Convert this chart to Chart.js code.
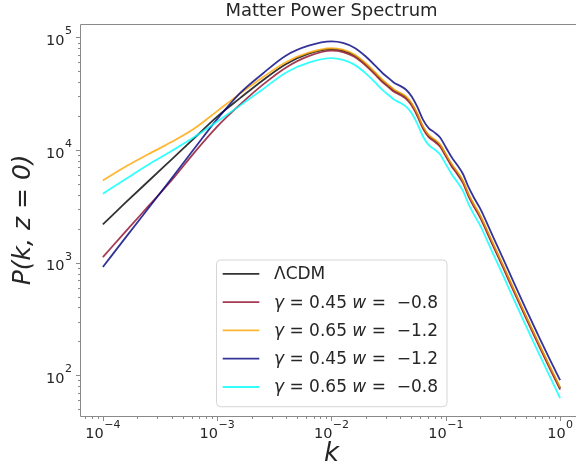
<!DOCTYPE html>
<html><head><meta charset="utf-8">
<script src="https://cdn.jsdelivr.net/npm/chart.js@4.4.1/dist/chart.umd.min.js"></script>
<style>html,body{margin:0;padding:0;background:#fff;overflow:hidden}canvas{display:block}</style>
</head><body>
<canvas id="c" width="583" height="468" style="width:583px;height:468px"></canvas>
<script>
// wavenumber k
const k = [1e-4, 1.585e-4, 2.512e-4, 3.981e-4, 6.310e-4, 1e-3, 1.585e-3, 2.512e-3, 3.981e-3, 6.310e-3,
  0.01, 0.01259, 0.01585, 0.01995, 0.02512, 0.02818, 0.03162, 0.03548, 0.03981, 0.04467,
  0.05012, 0.05623, 0.06310, 0.07079, 0.07943, 0.08913, 0.1, 0.1122, 0.1259, 0.1413,
  0.1585, 0.1778, 0.1995, 0.2512, 0.3162, 0.3981, 0.5012, 0.6310, 0.7943, 1.0];
// P(k, z=0) for each model
const lcdm = [2185, 3425, 5310, 8237, 12780, 19820, 28910, 41740, 57860, 71700,
  78900, 76530, 69360, 57970, 46110, 40970, 37220, 33750, 31800, 29550,
  25770, 20800, 15960, 13420, 12280, 11050, 9066, 7420, 6303, 5245,
  3982, 3180, 2594, 1557, 934.9, 555.6, 333.4, 202.2, 123.9, 76.8];
const g045w08 = [1121, 1895, 3189, 5364, 9502, 16160, 25320, 38080, 53860, 68120,
  76210, 74220, 67270, 56220, 44720, 39730, 36100, 32730, 30840, 28660,
  24990, 20170, 15480, 13010, 11910, 10720, 8792, 7196, 6113, 5087,
  3862, 3084, 2516, 1510, 906.7, 538.8, 323.3, 196.1, 120.2, 74.5];
const g065w12 = [5364, 7140, 9216, 11770, 15510, 22160, 31690, 44380, 60270, 73180,
  80200, 77790, 70500, 58930, 46870, 41650, 37830, 34310, 32320, 30040,
  26200, 21140, 16220, 13640, 12480, 11230, 9216, 7542, 6407, 5332,
  4048, 3232, 2637, 1583, 950.3, 564.8, 338.9, 205.5, 125.9, 78.1];
const g045w12 = [914, 1676, 3060, 5587, 10310, 18830, 32010, 47860, 68830, 84400,
  92160, 89390, 81020, 67710, 53860, 47860, 43480, 39420, 37150, 34520,
  30100, 24300, 18640, 15670, 14350, 12910, 10590, 8667, 7362, 6127,
  4651, 3715, 3030, 1819, 1092, 649, 389.4, 236.2, 144.7, 90.5];
const g065w08 = [4089, 5533, 7438, 9797, 13040, 17890, 24810, 34740, 48650, 59660,
  65420, 63300, 57370, 47950, 38140, 33890, 30780, 27910, 26300, 24440,
  21310, 17200, 13200, 11100, 10160, 9140, 7499, 6137, 5213, 4338,
  3294, 2630, 2146, 1288, 773.3, 459.5, 275.8, 167.2, 102.5, 62.7];
const seriesLabels = ['ΛCDM', 'γ = 0.45 w =  −0.8', 'γ = 0.65 w =  −1.2', 'γ = 0.45 w =  −1.2', 'γ = 0.65 w =  −0.8'];
const xTicks = [1e-4, 1e-3, 1e-2, 1e-1, 1];
const yTicks = [1e2, 1e3, 1e4, 1e5];

const seriesValues = [lcdm, g045w08, g065w12, g045w12, g065w08];
const seriesColors = ['rgba(0,0,0,0.8)', 'rgba(139,10,40,0.8)', 'rgba(255,165,0,0.8)', 'rgba(0,0,128,0.8)', 'rgba(0,255,255,0.8)'];
const FONT = '"DejaVu Sans", "Noto Sans", sans-serif';
const TXT = '#262626';
const SUP = {'-':'⁻','0':'⁰','1':'¹','2':'²','3':'³','4':'⁴','5':'⁵','6':'⁶','7':'⁷','8':'⁸','9':'⁹'};
const fmt = v => '10' + String(Math.round(Math.log10(v))).split('').map(c => SUP[c]).join('');

const datasets = seriesValues.map((vals, i) => ({
  label: seriesLabels[i],
  data: k.map((kv, j) => ({x: kv, y: vals[j]})),
  borderColor: seriesColors[i],
  backgroundColor: seriesColors[i],
  borderWidth: 1.8,
  pointRadius: 0,
  fill: false,
  cubicInterpolationMode: 'monotone',
  order: seriesValues.length - i
}));

// draws "10" with a raised exponent, like mathtext
function drawPow(ctx, v, x, y, align) {
  const e = String(Math.round(Math.log10(v))).replace('-', '−');
  ctx.font = '14.5px ' + FONT; const wb = ctx.measureText('10').width;
  ctx.font = '11px ' + FONT; const we = ctx.measureText(e).width;
  const total = wb + 0.5 + we;
  const sx = align === 'center' ? x - total / 2 : x - total;
  ctx.textAlign = 'left'; ctx.textBaseline = 'alphabetic'; ctx.fillStyle = TXT;
  ctx.font = '14.5px ' + FONT; ctx.fillText('10', sx, y);
  ctx.font = '11px ' + FONT; ctx.fillText(e, sx + wb + 0.5, y - 10.5);
}

const axesPlugin = {
  id: 'mplAxes',
  afterDraw(chart) {
    const {ctx, chartArea: a, scales: {x, y}} = chart;
    const L = Math.round(a.left) + 0.5, B = Math.round(a.bottom) + 0.5, T = Math.round(a.top) + 0.5;
    ctx.save();
    ctx.strokeStyle = '#8a8a8a';
    ctx.lineWidth = 1;
    ctx.beginPath();
    ctx.moveTo(a.right, T); ctx.lineTo(L, T); ctx.lineTo(L, B); ctx.lineTo(a.right, B);
    for (let e = Math.floor(Math.log10(x.min)); e <= Math.ceil(Math.log10(x.max)); e++) {
      for (let m = 1; m <= 9; m++) {
        const v = m * Math.pow(10, e);
        if (v < x.min || v > x.max) continue;
        const px = Math.round(x.getPixelForValue(v)) + 0.5;
        ctx.moveTo(px, B); ctx.lineTo(px, B + (m === 1 ? 4.5 : 2.5));
      }
    }
    for (let e = Math.floor(Math.log10(y.min)); e <= Math.ceil(Math.log10(y.max)); e++) {
      for (let m = 1; m <= 9; m++) {
        const v = m * Math.pow(10, e);
        if (v < y.min || v > y.max) continue;
        const py = Math.round(y.getPixelForValue(v)) + 0.5;
        ctx.moveTo(L, py); ctx.lineTo(L - (m === 1 ? 4.5 : 2.5), py);
      }
    }
    ctx.stroke();
    // tick labels from the scales' own ticks
    x.ticks.forEach(t => drawPow(ctx, t.value, x.getPixelForValue(t.value), a.bottom + 22, 'center'));
    y.ticks.forEach(t => drawPow(ctx, t.value, a.left - 8, y.getPixelForValue(t.value) + 7.5, 'right'));
    ctx.restore();
  }
};

const legendPlugin = {
  id: 'mplLegend',
  afterDatasetsDraw(chart) {
    const {ctx, chartArea: a} = chart;
    const x0 = a.left + 136.5, y0 = a.bottom - 156, w = 230.5, h = 146.7, r = 4;
    ctx.save();
    ctx.beginPath();
    ctx.moveTo(x0 + r, y0); ctx.arcTo(x0 + w, y0, x0 + w, y0 + h, r); ctx.arcTo(x0 + w, y0 + h, x0, y0 + h, r);
    ctx.arcTo(x0, y0 + h, x0, y0, r); ctx.arcTo(x0, y0, x0 + w, y0, r); ctx.closePath();
    ctx.fillStyle = 'rgba(255,255,255,0.8)'; ctx.fill();
    ctx.strokeStyle = '#d5d5d5'; ctx.lineWidth = 1; ctx.stroke();
    const italic = new Set(['γ', 'w']);
    chart.data.datasets.forEach((ds, i) => {
      const ry = y0 + 13.8 + 28.3 * i;
      ctx.strokeStyle = ds.borderColor; ctx.lineWidth = 1.8;
      ctx.beginPath(); ctx.moveTo(x0 + 6.2, ry); ctx.lineTo(x0 + 42.8, ry); ctx.stroke();
      let tx = x0 + 57.5;
      ctx.fillStyle = TXT; ctx.textBaseline = 'middle'; ctx.textAlign = 'left';
      const runs = [];
      for (const ch of ds.label) {
        const it = italic.has(ch);
        if (runs.length && runs[runs.length - 1].it === it) runs[runs.length - 1].t += ch;
        else runs.push({t: ch, it});
      }
      runs.forEach(run => {
        ctx.font = (run.it ? 'italic ' : '') + '17px ' + FONT;
        ctx.fillText(run.t, tx, ry + 1);
        tx += ctx.measureText(run.t).width;
      });
    });
    ctx.restore();
  }
};

new Chart(document.getElementById('c'), {
  type: 'line',
  data: {datasets},
  plugins: [axesPlugin, legendPlugin],
  options: {
    responsive: false,
    animation: false,
    layout: {padding: 0},
    plugins: {
      legend: {display: false},
      tooltip: {enabled: false},
      title: {display: true, text: 'Matter Power Spectrum', fullSize: false, color: TXT,
        font: {family: FONT, size: 18, weight: 'normal'}, padding: {top: 1, bottom: 1}}
    },
    scales: {
      x: {
        type: 'logarithmic', position: 'bottom', min: 6.31e-5, max: 1.585,
        grid: {display: false, drawTicks: false}, border: {display: false},
        afterBuildTicks: s => { s.ticks = xTicks.map(v => ({value: v})); },
        afterFit: s => { s.height = 52; },
        ticks: {display: false, autoSkip: false, maxRotation: 0, callback: v => fmt(v)},
        title: {display: true, text: 'k', color: TXT, padding: {top: 0, bottom: -2},
          font: {family: FONT, size: 26, style: 'italic'}}
      },
      y: {
        type: 'logarithmic', position: 'left', min: 43.5, max: 1.327e5,
        grid: {display: false, drawTicks: false}, border: {display: false},
        afterBuildTicks: s => { s.ticks = yTicks.map(v => ({value: v})); },
        afterFit: s => { s.width = 80; },
        ticks: {display: false, autoSkip: false, callback: v => fmt(v)},
        title: {display: true, text: 'P(k, z = 0)', color: TXT, padding: {top: 8, bottom: 0},
          font: {family: FONT, size: 25, style: 'italic'}}
      }
    }
  }
});
</script>
</body></html>
